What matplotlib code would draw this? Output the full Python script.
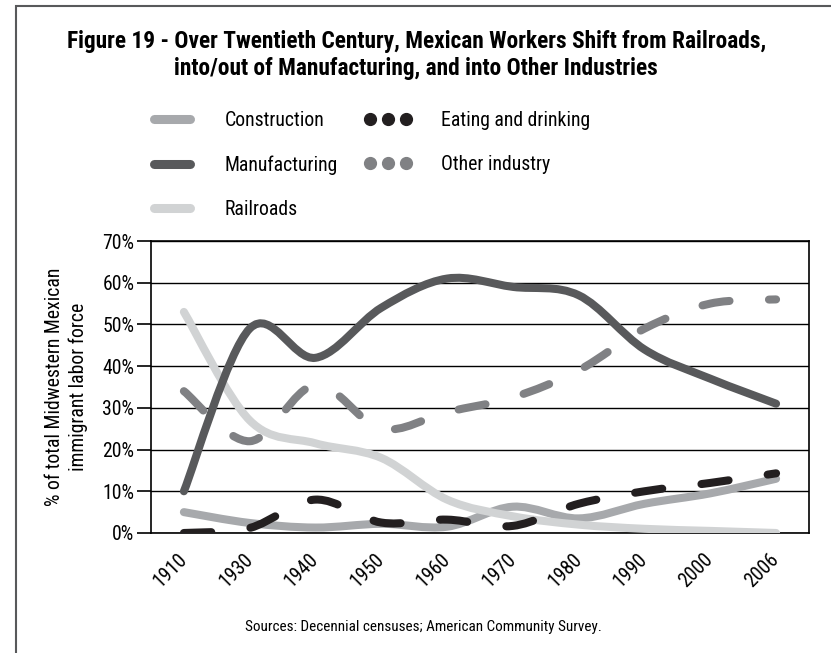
import matplotlib
matplotlib.use("Agg")
import matplotlib.pyplot as plt
from matplotlib import font_manager
from matplotlib.path import Path
from matplotlib.patches import PathPatch, Rectangle
from matplotlib.lines import Line2D

# the reference uses a condensed grotesque; take a narrow face if one is installed
installed = {(f.name, f.stretch) for f in font_manager.fontManager.ttflist}
names = {n for n, _ in installed}
if "Liberation Sans Narrow" in names:
    FONT, STRETCH, K = "Liberation Sans Narrow", "normal", 1.0
elif "Roboto Condensed" in names:
    FONT, STRETCH, K = "Roboto Condensed", "normal", 0.95
elif ("DejaVu Sans", "condensed") in installed:
    FONT, STRETCH, K = "DejaVu Sans", "condensed", 0.85
else:
    FONT, STRETCH, K = "Liberation Sans", "normal", 0.86
plt.rcParams["font.family"] = [FONT, "DejaVu Sans"]
plt.rcParams["font.stretch"] = STRETCH

# data (percent of labor force)
years = ["1910", "1930", "1940", "1950", "1960", "1970", "1980", "1990", "2000", "2006"]
construction = [5, 2.4, 1.3, 2.2, 1.5, 6.3, 3.5, 7, 9.5, 13]
manufacturing = [10, 49, 42, 54, 61, 59, 57, 44, 37, 31]
railroads = [53, 27, 21.5, 18, 8, 4, 2, 1, 0.5, 0]
eating = [0, 1.2, 8, 2.5, 3.2, 1.7, 7, 10, 12, 14.3]
other = [34, 22, 35.5, 25, 29, 32.5, 39, 49, 55, 56]

C_CONS = "#a7a9ac"
C_MANU = "#58595b"
C_RAIL = "#d1d3d4"
C_EAT = "#231f20"
C_OTHER = "#808184"


def smooth_path(xs, ys):
    """Cubic bezier through the points (like a spreadsheet's smoothed line)"""
    pts = list(zip(xs, ys))
    n = len(pts)
    verts = [pts[0]]
    codes = [Path.MOVETO]
    for i in range(n - 1):
        p0 = pts[i - 1] if i > 0 else pts[i]
        p1 = pts[i]
        p2 = pts[i + 1]
        p3 = pts[i + 2] if i + 2 < n else pts[i + 1]
        c1 = (p1[0] + (p2[0] - p0[0]) / 6, p1[1] + (p2[1] - p0[1]) / 6)
        c2 = (p2[0] - (p3[0] - p1[0]) / 6, p2[1] - (p3[1] - p1[1]) / 6)
        verts += [c1, c2, p2]
        codes += [Path.CURVE4] * 3
    return Path(verts, codes)


fig = plt.figure(figsize=(8.31, 6.53), dpi=100)
ax = fig.add_axes([0.1817, 0.1838, 0.9735 - 0.1817, 0.6309 - 0.1838])

x = list(range(len(years)))
lw = 5.8
dash = (0, (3.4, 4.9))
series = [
    (construction, C_CONS, "-"),
    (railroads, C_RAIL, "-"),
    (manufacturing, C_MANU, "-"),
    (other, C_OTHER, dash),
    (eating, C_EAT, dash),
]
for vals, col, ls in series:
    patch = PathPatch(smooth_path(x, vals), fill=False, edgecolor=col,
                      linewidth=lw, linestyle=ls, capstyle="round",
                      joinstyle="round", zorder=3)
    ax.add_patch(patch)

ax.set_xlim(-0.5, len(years) - 0.5)
ax.set_ylim(0, 70)
ax.set_yticks(range(0, 71, 10))
ax.set_yticklabels([f"{v}%" for v in range(0, 71, 10)], fontsize=15 * K)
ax.set_xticks(x)
ax.set_xticklabels(years, fontsize=15 * K, rotation=45, ha="right",
                   va="center", rotation_mode="anchor")
ax.tick_params(axis="x", length=0, pad=17)
ax.tick_params(axis="y", length=10, width=1.2, pad=2, color="black")
ax.grid(axis="y", color="black", linewidth=1.0)
ax.set_axisbelow(True)
for sp in ax.spines.values():
    sp.set_color("black")
    sp.set_linewidth(1.2)

ax.set_ylabel("% of total Midwestern Mexican\nimmigrant labor force",
              fontsize=15 * K, labelpad=10, linespacing=1.3)

# legend
handles = [
    Line2D([], [], color=C_CONS, lw=6.5, solid_capstyle="round"),
    Line2D([], [], color=C_MANU, lw=6.5, solid_capstyle="round"),
    Line2D([], [], color=C_RAIL, lw=6.5, solid_capstyle="round"),
    Line2D([], [], color=C_EAT, ls="none", marker="o", markersize=8.5),
    Line2D([], [], color=C_OTHER, ls="none", marker="o", markersize=8.5),
]
labels = ["Construction", "Manufacturing", "Railroads",
          "Eating and drinking", "Other industry"]
leg_fs = 15 * K
em = leg_fs * 100 / 72
fig.legend(handles, labels, ncol=2, frameon=False, fontsize=leg_fs,
           loc="upper left", bbox_to_anchor=(148 / 831, 1 - 111 / 653),
           handlelength=48 / em, handletextpad=29 / em,
           columnspacing=26 / em, labelspacing=(45 - em) / em,
           numpoints=3, borderpad=0, borderaxespad=0)

fig.text(0.501, 1 - 55 / 653,
         "Figure 19 - Over Twentieth Century, Mexican Workers Shift from Railroads,\n"
         "into/out of Manufacturing, and into Other Industries",
         ha="center", va="center", fontsize=17.7 * K, fontweight="bold",
         linespacing=1.25)

fig.text(0.509, 1 - 627 / 653,
         "Sources: Decennial censuses; American Community Survey.",
         ha="center", va="center", fontsize=11.5 * K)

# outer frame (only top and left edges fall inside the image)
fig.add_artist(Rectangle((16 / 831, -0.1), 1.0, 1.1 - 6 / 653, fill=False,
                         edgecolor="#58595b", linewidth=1.5,
                         transform=fig.transFigure))

fig.savefig("out.png", dpi=100)
